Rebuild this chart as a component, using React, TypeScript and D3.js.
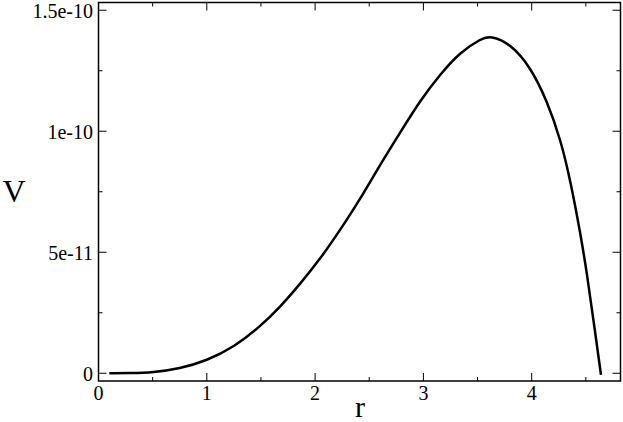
import React from 'react';
import * as d3 from 'd3';

// curve samples
const rValues = [0.1, 0.3, 0.5, 0.75, 1.0, 1.25, 1.49, 1.68, 1.86, 2.05, 2.23, 2.42, 2.6, 2.79, 2.97, 3.16, 3.34, 3.53, 3.62, 3.8, 3.99, 4.14, 4.27, 4.36, 4.45, 4.51, 4.57, 4.64];
const vValues = [0, 0.002e-11, 0.03e-11, 0.19e-11, 0.52e-11, 1.08e-11, 1.92e-11, 2.75e-11, 3.68e-11, 4.74e-11, 5.91e-11, 7.22e-11, 8.62e-11, 9.98e-11, 11.27e-11, 12.38e-11, 13.27e-11, 13.82e-11, 13.95e-11, 13.63e-11, 12.65e-11, 11.27e-11, 9.62e-11, 7.9e-11, 5.78e-11, 4.13e-11, 2.2e-11, -0.07e-11];

const xMajor = [0, 1, 2, 3, 4];
const xMinor = [0.5, 1.5, 2.5, 3.5, 4.5];
const yMajor = [0, 5e-11, 1e-10, 1.5e-10];
const yMinor = [2.5e-11, 7.5e-11, 1.25e-10];
const yLabels = ['0', '5e-11', '1e-10', '1.5e-10'];

const W = 623;
const H = 422;
const left = 98.5, right = 620.5, top = 2.5, bottom = 381;
const FONT = '"Liberation Serif", "DejaVu Serif", serif';

export default function App() {
  const x = d3.scaleLinear().domain([0, 4.82]).range([left, right]);
  const y = d3.scaleLinear().domain([-0.32e-11, 15.32e-11]).range([bottom, top]);

  const pts: [number, number][] = rValues.map((r, i) => [r, vValues[i]]);
  // b-spline smooths out the reading noise in the samples
  const line = d3.line<[number, number]>()
    .x(d => x(d[0]))
    .y(d => y(d[1]))
    .curve(d3.curveBasis);

  const major = 8, minor = 4;

  return (
    <svg width={W} height={H} style={{ position: 'absolute', left: 0, top: 0, background: '#fff' }}>
      <rect x={0} y={0} width={W} height={H} fill="#fff" />

      {/* ticks, pointing inward on all sides */}
      <g stroke="#000" strokeWidth={1}>
        {xMajor.map(t => (
          <g key={'xM' + t}>
            <line x1={x(t)} x2={x(t)} y1={bottom} y2={bottom - major} />
            <line x1={x(t)} x2={x(t)} y1={top} y2={top + major} />
          </g>
        ))}
        {xMinor.map(t => (
          <g key={'xm' + t}>
            <line x1={x(t)} x2={x(t)} y1={bottom} y2={bottom - minor} />
            <line x1={x(t)} x2={x(t)} y1={top} y2={top + minor} />
          </g>
        ))}
        {yMajor.map(t => (
          <g key={'yM' + t}>
            <line x1={left} x2={left + major} y1={y(t)} y2={y(t)} />
            <line x1={right} x2={right - major} y1={y(t)} y2={y(t)} />
          </g>
        ))}
        {yMinor.map(t => (
          <g key={'ym' + t}>
            <line x1={left} x2={left + minor} y1={y(t)} y2={y(t)} />
            <line x1={right} x2={right - minor} y1={y(t)} y2={y(t)} />
          </g>
        ))}
      </g>

      <rect x={left} y={top} width={right - left} height={bottom - top}
        fill="none" stroke="#000" strokeWidth={1.5} />

      <path d={line(pts) || ''} fill="none" stroke="#000" strokeWidth={2.5} />

      <g fontFamily={FONT} fontSize={20} fill="#000">
        {xMajor.map(t => (
          <text key={'xl' + t} x={x(t)} y={400} textAnchor="middle">{t}</text>
        ))}
        {yMajor.map((t, i) => (
          <text key={'yl' + t} x={93} y={y(t) + 8} textAnchor="end">{yLabels[i]}</text>
        ))}
      </g>

      <text x={14} y={202} textAnchor="middle" fontFamily={FONT} fontSize={32}>V</text>
      <text x={360} y={417} textAnchor="middle" fontFamily={FONT} fontSize={30}>r</text>
    </svg>
  );
}
